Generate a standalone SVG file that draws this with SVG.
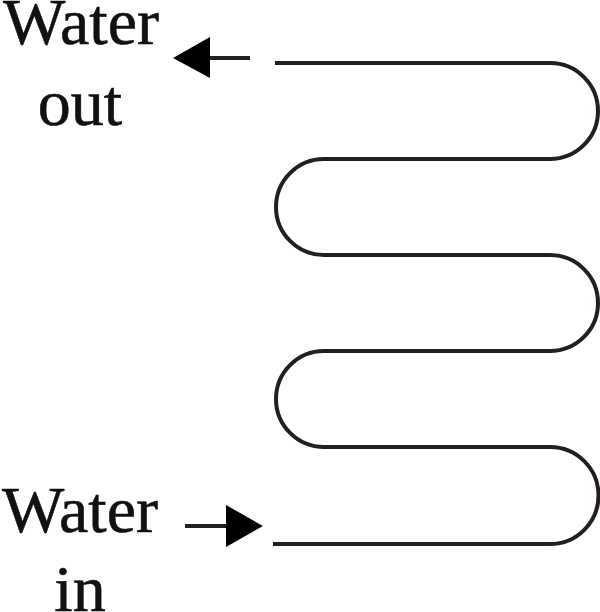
<svg xmlns="http://www.w3.org/2000/svg" width="600" height="612" viewBox="0 0 600 612">
<style>
text{font-family:"Liberation Serif","Times New Roman",serif;font-size:66px;fill:#111;stroke:#111;stroke-width:.6;text-anchor:middle}
.l{fill:none;stroke:#231f20;stroke-width:4}
.h{fill:#000}
</style>
<g id="connectors">
<path id="coil" class="l" d="M275 63H550A48 48 0 0 1 550 159H324A48 48 0 0 0 324 255H550A48 48 0 0 1 550 351H324A48 48 0 0 0 324 447H550A48.500 48.500 0 0 1 550 544H273"/>
<path class="l" d="M250 58H205"/>
<polygon class="h" points="173,58 210,37 210,78"/>
<path class="l" d="M185 526H230"/>
<polygon class="h" points="263,526 226,505 226,547"/>
</g>
<g id="water-out"><text x="81" y="44">Water</text><text x="80" y="125">out</text></g>
<g id="water-in"><text x="80" y="532">Water</text><text x="80" y="611">in</text></g>
</svg>
